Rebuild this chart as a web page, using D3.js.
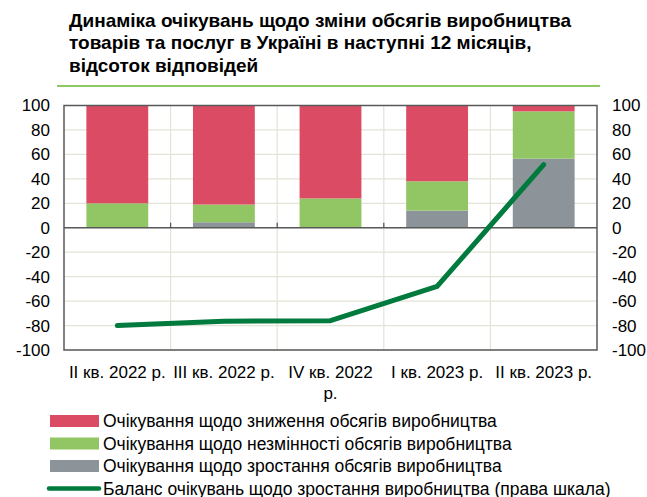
<!DOCTYPE html>
<html>
<head>
<meta charset="utf-8">
<style>
  body { margin: 0; background: #fff; }
  text { font-family: "Liberation Sans", Arial, sans-serif; fill: #000; }
</style>
</head>
<body>
<svg id="chart" width="647" height="497"></svg>
<script src="https://cdn.jsdelivr.net/npm/d3@7"></script>
<script>
// data
const quarters = [
  ["II кв. 2022 р."],
  ["III кв. 2022 р."],
  ["IV кв. 2022", "р."],
  ["I кв. 2023 р."],
  ["II кв. 2023 р."]
]
const growth = [0, 4.5, 0, 14, 56.5]      // grey
const noChange = [20, 14.5, 24, 24, 38.7] // light green
const decline = [80, 81, 76, 62, 4.8]     // red
const balance = [-80, -76.5, -76, -48, 51.7]
const yTicks = [-100, -80, -60, -40, -20, 0, 20, 40, 60, 80, 100]

const titleLines = [
  "Динаміка очікувань щодо зміни обсягів виробництва",
  "товарів та послуг в Україні в наступні 12 місяців,",
  "відсоток відповідей"
]
const legendItems = [
  { label: "Очікування щодо зниження обсягів виробництва", color: "#dc4b64", type: "rect" },
  { label: "Очікування щодо незмінності обсягів виробництва", color: "#92c665", type: "rect" },
  { label: "Очікування щодо зростання обсягів виробництва", color: "#8c9499", type: "rect" },
  { label: "Баланс очікувань щодо зростання виробництва (права шкала)", color: "#007a3d", type: "line" }
]

let svg = d3.select("#chart")

// title
svg.append("g").selectAll("text").data(titleLines)
  .enter().append("text")
  .attr("x", 69)
  .attr("y", (d, i) => 26.5 + i * 22.5)
  .style("font-size", "19px")
  .style("font-weight", "bold")
  .text(d => d)

svg.append("line")
  .attr("x1", 57).attr("x2", 600)
  .attr("y1", 86).attr("y2", 86)
  .attr("stroke", "#8dc862").attr("stroke-width", 2)

// plot area
let pLeft = 64, pRight = 597, pTop = 105.5, pBottom = 350

let x = d3.scaleBand()
  .domain(d3.range(quarters.length))
  .range([pLeft, pRight])
  .paddingInner(0.42)
  .paddingOuter(0.21)

let y = d3.scaleLinear().domain([-100, 100]).range([pBottom, pTop])

let grid = svg.append("g")
grid.selectAll("line.h").data(yTicks)
  .enter().append("line")
  .attr("x1", pLeft).attr("x2", pRight)
  .attr("y1", d => y(d)).attr("y2", d => y(d))
  .attr("stroke", "#e3e3d6").attr("stroke-width", 1.2)

let step = x.step()
let bounds = d3.range(1, quarters.length).map(i => pLeft + i * step)
grid.selectAll("line.v").data(bounds)
  .enter().append("line")
  .attr("x1", d => d).attr("x2", d => d)
  .attr("y1", pTop).attr("y2", pBottom)
  .attr("stroke", "#e3e3d6").attr("stroke-width", 1.2)

// stacked bars: grey bottom, green, red on top
let stackData = quarters.map((q, i) => ({ i: i, growth: growth[i], noChange: noChange[i], decline: decline[i] }))
let stack = d3.stack().keys(["growth", "noChange", "decline"])(stackData)
let colors = { growth: "#8c9499", noChange: "#92c665", decline: "#dc4b64" }

svg.append("g").selectAll("g").data(stack)
  .enter().append("g")
  .attr("fill", s => colors[s.key])
  .selectAll("rect").data(s => s)
  .enter().append("rect")
  .attr("x", d => x(d.data.i))
  .attr("width", x.bandwidth())
  .attr("y", d => y(d[1]))
  .attr("height", d => y(d[0]) - y(d[1]))

// zero axis with small ticks
svg.append("line")
  .attr("x1", pLeft).attr("x2", pRight)
  .attr("y1", y(0)).attr("y2", y(0))
  .attr("stroke", "#595959").attr("stroke-width", 1.3)
svg.append("g").selectAll("line").data(bounds)
  .enter().append("line")
  .attr("x1", d => d).attr("x2", d => d)
  .attr("y1", y(0)).attr("y2", y(0) - 5)
  .attr("stroke", "#595959").attr("stroke-width", 1.3)

// border
svg.append("rect")
  .attr("x", pLeft).attr("y", pTop)
  .attr("width", pRight - pLeft).attr("height", pBottom - pTop)
  .attr("fill", "none").attr("stroke", "#595959").attr("stroke-width", 1.5)

// balance line (right scale)
let yRight = d3.scaleLinear().domain([-100, 100]).range([pBottom, pTop])
let line = d3.line()
  .x((d, i) => x(i) + x.bandwidth() / 2)
  .y(d => yRight(d))
svg.append("path")
  .datum(balance)
  .attr("d", line)
  .attr("fill", "none")
  .attr("stroke", "#007a3d")
  .attr("stroke-width", 5)
  .attr("stroke-linecap", "round")
  .attr("stroke-linejoin", "round")

// axes labels (plain hyphen for negatives, like the original)
let leftAxis = d3.axisLeft(y).tickValues(yTicks).tickSize(0).tickPadding(14).tickFormat(d => String(d))
svg.append("g").attr("transform", `translate(${pLeft},0)`).call(leftAxis)
  .call(g => g.select(".domain").remove())
  .selectAll("text").style("font-size", "17px").style("font-family", "'Liberation Sans', Arial, sans-serif")

let rightAxis = d3.axisRight(yRight).tickValues(yTicks).tickSize(0).tickPadding(15).tickFormat(d => String(d))
svg.append("g").attr("transform", `translate(${pRight},0)`).call(rightAxis)
  .call(g => g.select(".domain").remove())
  .selectAll("text").style("font-size", "17px").style("font-family", "'Liberation Sans', Arial, sans-serif")

// category labels
let xl = svg.append("g").selectAll("text").data(quarters)
  .enter().append("text")
  .attr("text-anchor", "middle")
  .style("font-size", "17px")
xl.selectAll("tspan").data((d, i) => d.map(t => ({ t: t, i: i })))
  .enter().append("tspan")
  .attr("x", d => x(d.i) + x.bandwidth() / 2)
  .attr("y", (d, j) => 378 + j * 21)
  .text(d => d.t)

// legend
let lg = svg.append("g").selectAll("g").data(legendItems)
  .enter().append("g")
  .attr("transform", (d, i) => `translate(0,${421 + i * 22.5})`)
lg.filter(d => d.type == "rect").append("rect")
  .attr("x", 50).attr("y", -6).attr("width", 49).attr("height", 12)
  .attr("fill", d => d.color)
lg.filter(d => d.type == "line").append("line")
  .attr("x1", 49).attr("x2", 99).attr("y1", 0).attr("y2", 0)
  .attr("stroke", d => d.color).attr("stroke-width", 4.5).attr("stroke-linecap", "round")
lg.append("text")
  .attr("x", 103).attr("y", 6)
  .style("font-size", "17.5px")
  .text(d => d.label)
</script>
</body>
</html>
